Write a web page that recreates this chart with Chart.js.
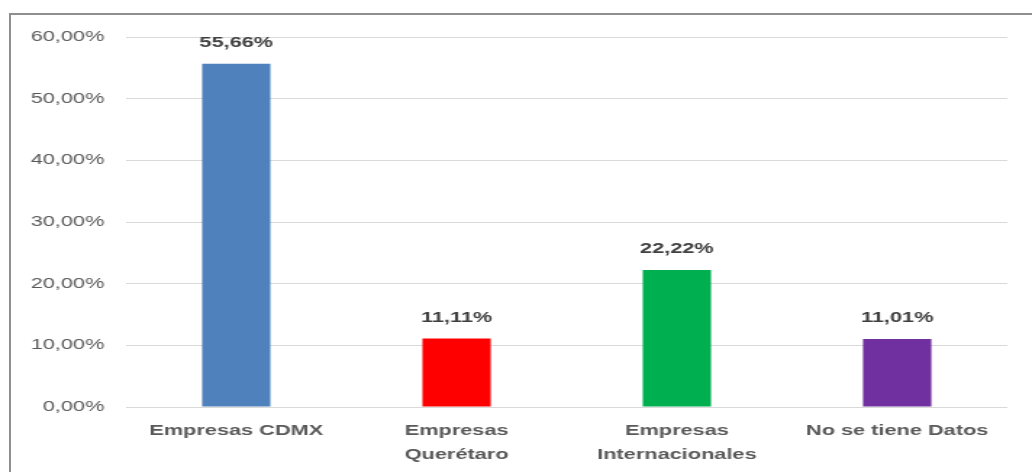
<!DOCTYPE html>
<html>
<head>
<meta charset="utf-8">
<script src="https://cdn.jsdelivr.net/npm/chart.js@4/dist/chart.umd.min.js"></script>
<style>
  html, body { margin: 0; padding: 0; background: #fff; overflow: hidden; }
  #frame {
    position: absolute; left: 9px; top: 13px;
    width: 1100px; height: 600px;
    border: 2px solid #8f8f8f;
  }
  /* the original picture is stretched sideways, so the chart is drawn narrower and scaled */
  #wrap {
    position: absolute; left: 0; top: 0;
    width: 712px; height: 472px;
    transform: scaleX(1.4494);
    transform-origin: 0 0;
  }
</style>
</head>
<body>
<div id="frame"></div>
<div id="wrap"><canvas id="chart" width="712" height="472"></canvas></div>
<script>
const categories = [
    'Empresas CDMX',
    ['Empresas', 'Querétaro'],
    ['Empresas', 'Internacionales'],
    'No se tiene Datos'
];
const percentages = [55.66, 11.11, 22.22, 11.01];
const barColors = ['#4f81bd', '#ff0000', '#00b050', '#7030a0'];
const yTicks = { min: 0, max: 60, step: 10 };

const fmt = (v) => v.toFixed(2).replace('.', ',') + '%';

// labels above the bars
const valueLabels = {
    id: 'valueLabels',
    afterDatasetsDraw(chart) {
        const ctx = chart.ctx;
        const meta = chart.getDatasetMeta(0);
        ctx.save();
        ctx.font = 'bold 15px "Liberation Sans", Arial, sans-serif';
        ctx.fillStyle = '#404040';
        ctx.textAlign = 'center';
        ctx.textBaseline = 'middle';
        meta.data.forEach((bar, i) => {
            ctx.fillText(fmt(percentages[i]), bar.x, bar.y - 21);
        });
        ctx.restore();
    }
};

const ctx = document.getElementById('chart');

new Chart(ctx, {
    type: 'bar',
    data: {
        labels: categories,
        datasets: [{
            data: percentages,
            backgroundColor: barColors,
            borderWidth: 0,
            barPercentage: 0.31,
            categoryPercentage: 1
        }]
    },
    options: {
        responsive: false,
        animation: false,
        layout: { padding: { top: 37, right: 17, bottom: 0, left: 0 } },
        plugins: {
            legend: { display: false },
            tooltip: { enabled: false }
        },
        scales: {
            x: {
                grid: { display: false, drawTicks: false },
                border: { display: false },
                ticks: {
                    padding: 12,
                    color: '#595959',
                    maxRotation: 0,
                    font: { family: '"Liberation Sans", Arial, sans-serif', size: 15, weight: 'bold', lineHeight: 1.6 }
                },
                afterFit(scale) { scale.height = 65; }
            },
            y: {
                min: yTicks.min,
                max: yTicks.max,
                grid: { color: '#d9d9d9', lineWidth: 1, drawTicks: false },
                border: { display: false },
                ticks: {
                    stepSize: yTicks.step,
                    padding: 15,
                    color: '#595959',
                    font: { family: '"Liberation Sans", Arial, sans-serif', size: 15 },
                    callback: (v) => fmt(v)
                },
                afterFit(scale) { scale.width = 87; }
            }
        }
    },
    plugins: [valueLabels]
});
</script>
</body>
</html>
